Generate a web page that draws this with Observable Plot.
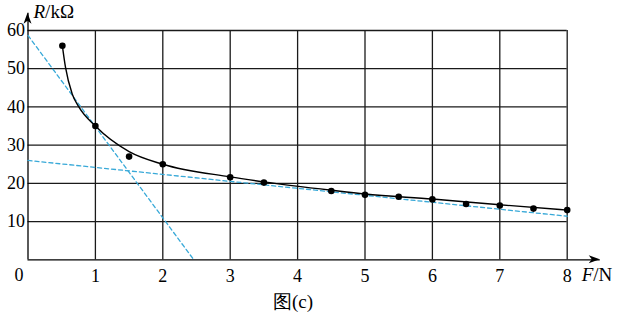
<!DOCTYPE html>
<html>
<head>
<meta charset="utf-8">
<script src="https://cdn.jsdelivr.net/npm/d3@7"></script>
<script src="https://cdn.jsdelivr.net/npm/@observablehq/plot@0.6"></script>
<style>
  body { margin: 0; background: #fff; }
  #wrap { position: relative; width: 621px; }
  #cap { height: 28px; line-height: 23px; font-family: "Liberation Serif", "Times New Roman", Times, "DejaVu Serif", serif; font-size: 19px; color: #000; padding-left: 273px; }
  svg text, svg g { font-family: "Liberation Serif", "Times New Roman", Times, "DejaVu Serif", serif !important; }
</style>
</head>
<body>
<div id="wrap"></div>
<div id="cap">图(c)</div>
<script>
// measured data points (F in N, R in kΩ)
const forceN = [0.51, 1, 1.5, 2, 3, 3.5, 4.5, 5, 5.5, 6, 6.5, 7, 7.5, 8];
const resistK = [56, 35, 27, 25, 21.6, 20.2, 18, 17, 16.5, 15.8, 14.6, 14.2, 13.4, 13];
// hand-drawn fitted curve
const curveF = [0.51, 0.556, 0.656, 0.754, 1, 1.5, 2, 3, 3.5, 4.5, 5, 6, 7, 8];
const curveR = [56, 50.4, 43.4, 40, 35, 28.3, 25, 21.7, 20.4, 18.2, 17.2, 15.9, 14.4, 13];
// dashed tangent lines
const tan1F = [0, 2.46], tan1R = [58.7, 0];
const tan2F = [0, 8], tan2R = [26, 11.4];
// ticks / grid
const xTicks = [1, 2, 3, 4, 5, 6, 7, 8];
const yTicks = [10, 20, 30, 40, 50, 60];
const xAxisEnd = 8.49, yAxisEnd = 64.5;

const pts = forceN.map((f, i) => ({f, r: resistK[i]}));
const crv = curveF.map((f, i) => ({f, r: curveR[i]}));
const t1 = tan1F.map((f, i) => ({f, r: tan1R[i]}));
const t2 = tan2F.map((f, i) => ({f, r: tan2R[i]}));

const serif = "'Liberation Serif', 'Times New Roman', Times, 'DejaVu Serif', serif";
const dashColor = "#38a9d8";
const chart = Plot.plot({
  width: 621,
  height: 290,
  marginLeft: 27.5,
  marginRight: 54.3,
  marginTop: 30,
  marginBottom: 30.7,
  style: {fontFamily: serif, fontSize: "18px", color: "#000", background: "#fff", overflow: "visible"},
  x: {domain: [0, 8], axis: null},
  y: {domain: [0, 60], axis: null},
  marks: [
    Plot.ruleX(xTicks, {y1: 0, y2: 60, stroke: "#1a1a1a", strokeWidth: 1.3}),
    Plot.ruleY(yTicks, {x1: 0, x2: 8, stroke: "#1a1a1a", strokeWidth: 1.3}),
    Plot.ruleY([0], {x1: 0, x2: xAxisEnd, stroke: "#000", strokeWidth: 1.3}),
    Plot.ruleX([0], {y1: 0, y2: yAxisEnd, stroke: "#000", strokeWidth: 1.3}),
    Plot.line(t1, {x: "f", y: "r", stroke: dashColor, strokeWidth: 1.3, strokeDasharray: "4,3"}),
    Plot.line(t2, {x: "f", y: "r", stroke: dashColor, strokeWidth: 1.3, strokeDasharray: "4,3"}),
    Plot.line(crv, {x: "f", y: "r", stroke: "#000", strokeWidth: 1.4, curve: "monotone-x"}),
    Plot.dot(pts, {x: "f", y: "r", r: 3.3, fill: "#000", stroke: "none"}),
    Plot.axisX(xTicks, {tickSize: 0, tickPadding: 9, fontSize: 18, fontFamily: serif, label: null}),
    Plot.axisY(yTicks, {tickSize: 0, tickPadding: 3, fontSize: 18, fontFamily: serif, label: null})
  ]
});

document.getElementById("wrap").appendChild(chart);

const sx = chart.scale("x"), sy = chart.scale("y");
const svg = d3.select(chart);
const x0 = sx.apply(0), y0 = sy.apply(0);
const xe = sx.apply(xAxisEnd), ye = sy.apply(yAxisEnd);
// arrow heads
svg.append("path")
  .attr("d", `M${xe},${y0} L${xe - 11},${y0 - 4} L${xe - 8},${y0} L${xe - 11},${y0 + 4} Z`)
  .attr("fill", "#000");
svg.append("path")
  .attr("d", `M${x0},${ye} L${x0 - 4},${ye + 11} L${x0},${ye + 8} L${x0 + 4},${ye + 11} Z`)
  .attr("fill", "#000");
// origin label
svg.append("text").attr("x", x0 - 8.5).attr("y", y0 + 22).attr("text-anchor", "middle")
  .attr("font-size", 18).attr("font-family", serif).text("0");
// axis titles
const ty = svg.append("text").attr("x", x0 + 6).attr("y", 18).attr("text-anchor", "start")
  .attr("font-size", 19).attr("font-family", serif);
ty.append("tspan").attr("font-style", "italic").text("R");
ty.append("tspan").text("/kΩ");
const tx = svg.append("text").attr("x", sx.apply(8) + 15).attr("y", y0 + 22).attr("text-anchor", "start")
  .attr("font-size", 19).attr("font-family", serif);
tx.append("tspan").attr("font-style", "italic").text("F");
tx.append("tspan").text("/N");
</script>
</body>
</html>
